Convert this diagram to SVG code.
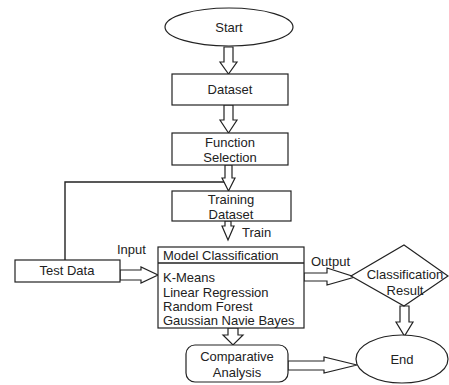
<svg xmlns="http://www.w3.org/2000/svg" width="449" height="385" viewBox="0 0 449 385">
<style>
.s{fill:#fff;stroke:#222;stroke-width:1.2}
.l{fill:none;stroke:#222;stroke-width:1.4}
.t{font-family:"Liberation Sans",Arial,sans-serif;font-size:13px;fill:#222}
.c{text-anchor:middle}
</style>
<rect width="449" height="385" fill="#fff"/>
<g id="connectors">
<polyline class="l" points="65,260 65,182 226,182"/>
<polygon class="s" points="224,47 233,47 233,62 237,62 228.5,74 220,62 224,62"/>
<polygon class="s" points="224,105 233,105 233,120 237,120 228.5,133 220,120 224,120"/>
<polygon class="s" points="225,165 232,165 232,178 235,178 228.5,191 222,178 225,178"/>
<polygon class="s" points="225,221 231,221 231,226 234,226 228,240 222,226 225,226"/>
<polygon class="s" points="120,270 141,270 141,267 158,275 141,283 141,280 120,280"/>
<polygon class="s" points="304,273 327,273 327,268 355,277 327,285 327,281 304,281"/>
<polygon class="s" points="228,328 238,328 238,335 243,335 233,345 223,335 228,335"/>
<polygon class="s" points="400,306 409,306 409,322 413,322 404.5,336 396,322 400,322"/>
<polygon class="s" points="288,361 324,361 324,357 357,365 324,373 324,370 288,370"/>
<text class="t" x="117" y="254">Input</text>
<text class="t" x="242" y="237">Train</text>
<text class="t" x="311" y="266">Output</text>
</g>
<g id="start"><ellipse class="s" cx="229" cy="27" rx="64" ry="19"/><text class="t c" x="229" y="32">Start</text></g>
<g id="dataset"><rect class="s" x="172" y="74" width="116" height="31"/><text class="t c" x="230" y="94">Dataset</text></g>
<g id="function"><rect class="s" x="172" y="133" width="116" height="32"/><text class="t c" x="230" y="147">Function</text><text class="t c" x="230" y="162">Selection</text></g>
<g id="training"><rect class="s" x="172" y="191" width="119" height="30"/><text class="t c" x="231" y="204">Training</text><text class="t c" x="231" y="219">Dataset</text></g>
<g id="testdata"><rect class="s" x="15" y="260" width="105" height="22"/><text class="t c" x="67" y="275">Test Data</text></g>
<g id="model"><rect class="s" x="158" y="247" width="146" height="81"/><line class="l" x1="158" y1="263" x2="304" y2="263"/>
<text class="t" x="163" y="260">Model Classification</text>
<text class="t" x="163" y="282">K-Means</text>
<text class="t" x="163" y="297">Linear Regression</text>
<text class="t" x="163" y="311">Random Forest</text>
<text class="t" x="163" y="325">Gaussian Navie Bayes</text></g>
<g id="result"><polygon class="s" points="404,245 448,276 404,306 351,276"/><text class="t c" x="405" y="279">Classification</text><text class="t c" x="405" y="295">Result</text></g>
<g id="comparative"><rect class="s" x="186" y="345" width="102" height="37" rx="9"/><text class="t c" x="237" y="361">Comparative</text><text class="t c" x="237" y="377">Analysis</text></g>
<g id="end"><ellipse class="s" cx="402" cy="359" rx="46" ry="24"/><text class="t c" x="402" y="364">End</text></g>
</svg>
